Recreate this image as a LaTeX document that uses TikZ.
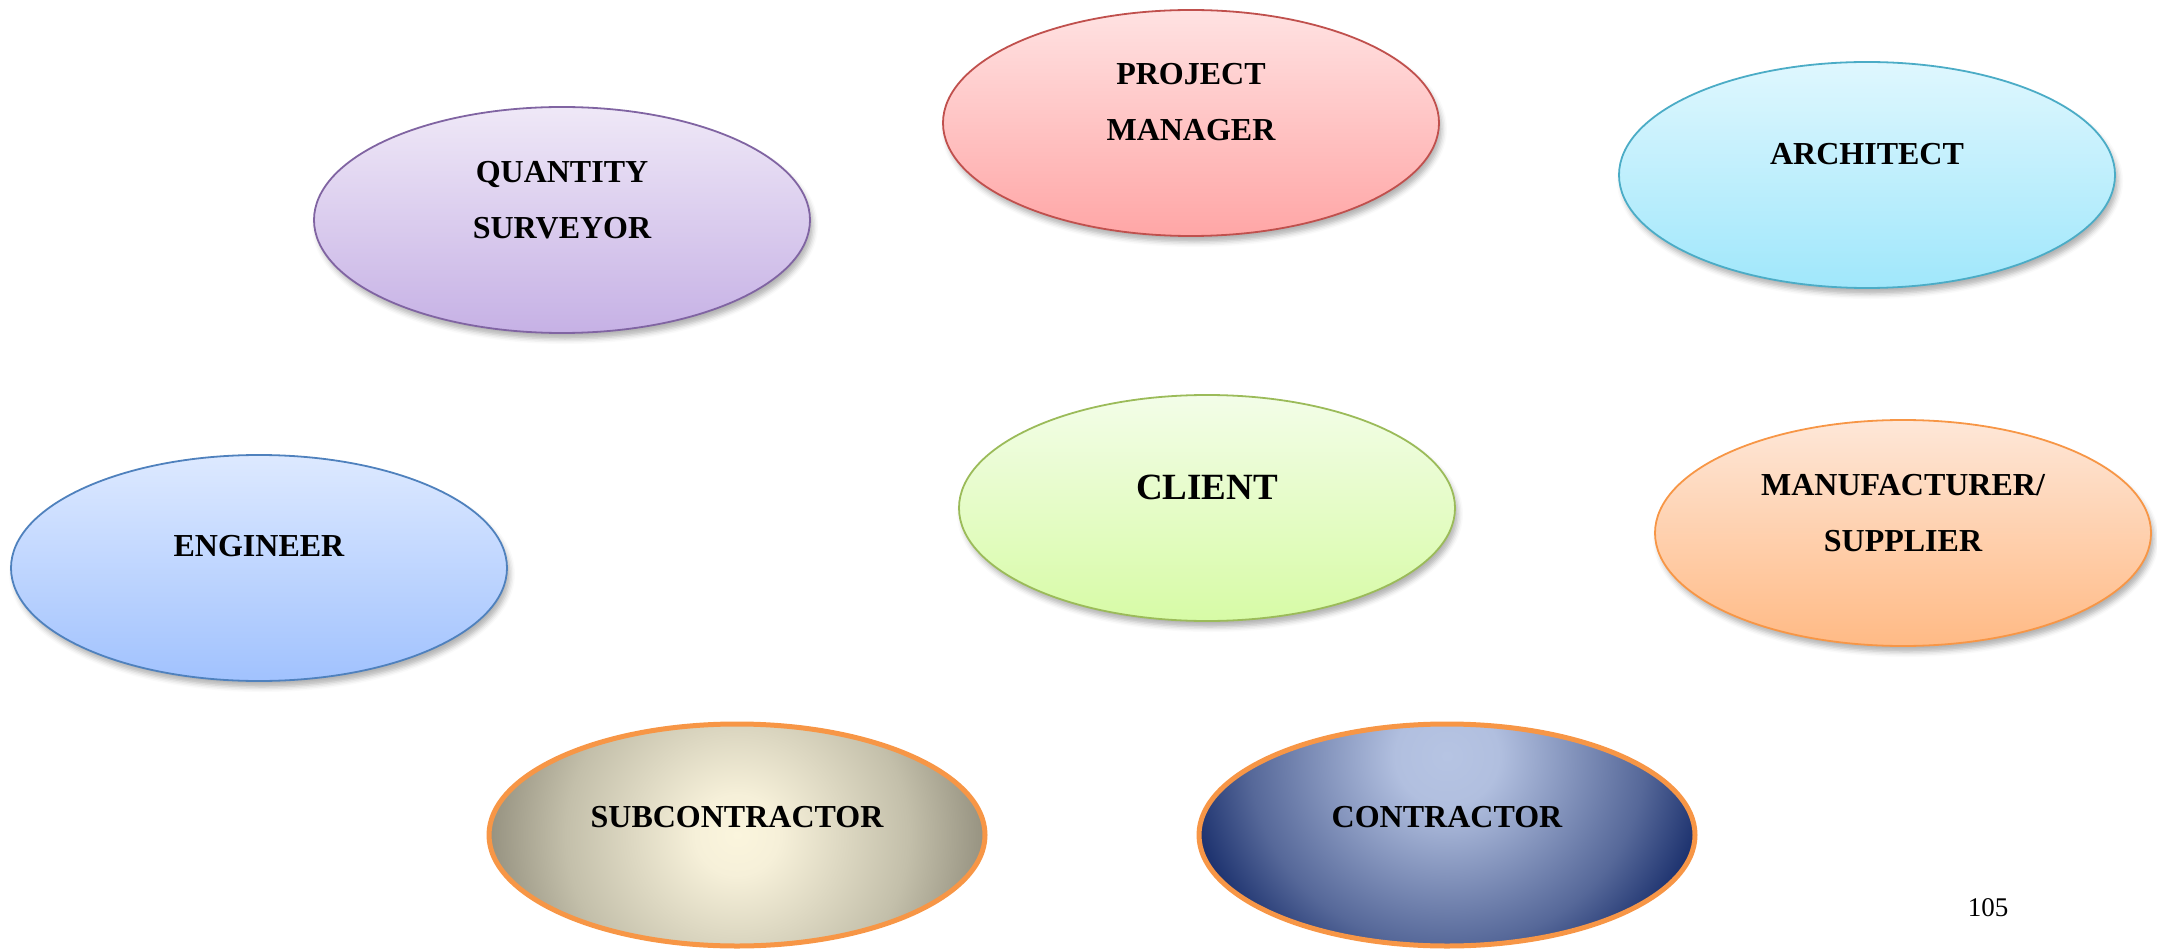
\documentclass[tikz,border=0pt]{standalone}
\usepackage{fontspec}
\setmainfont{Liberation Serif}
\usetikzlibrary{shapes.geometric,shadows.blur}
\definecolor{pmtop}{HTML}{FFE2E2}\definecolor{pmbot}{HTML}{FFA6A6}\definecolor{pmline}{HTML}{C0504D}
\definecolor{artop}{HTML}{DFF7FE}\definecolor{arbot}{HTML}{A0E7FB}\definecolor{arline}{HTML}{4BACC6}
\definecolor{qstop}{HTML}{EFE8F7}\definecolor{qsbot}{HTML}{C6B1E5}\definecolor{qsline}{HTML}{8064A2}
\definecolor{cltop}{HTML}{F3FDE8}\definecolor{clbot}{HTML}{D7FBA6}\definecolor{clline}{HTML}{9BBB59}
\definecolor{mftop}{HTML}{FEE7D8}\definecolor{mfbot}{HTML}{FFBA85}\definecolor{mfline}{HTML}{F79646}
\definecolor{entop}{HTML}{DDE9FF}\definecolor{enbot}{HTML}{A1C2FE}\definecolor{enline}{HTML}{4F81BD}
\definecolor{orangeline}{HTML}{F79646}
\definecolor{subin}{HTML}{FBF5DD}\definecolor{subintwo}{HTML}{F6F0D9}\definecolor{submid}{HTML}{C3BFAA}\definecolor{subout}{HTML}{8F8B7A}
\definecolor{conin}{HTML}{B6C4E3}\definecolor{conintwo}{HTML}{B1BFDF}\definecolor{conmid}{HTML}{566899}\definecolor{conout}{HTML}{1F3470}
\pgfdeclareradialshading{subshade}{\pgfpoint{0bp}{0bp}}{color(0bp)=(subin); color(4bp)=(subintwo); color(16.5bp)=(submid); color(25bp)=(subout); color(50bp)=(subout)}
\pgfdeclareradialshading{conshade}{\pgfpoint{0bp}{0bp}}{color(0bp)=(conin); color(5bp)=(conintwo); color(19bp)=(conmid); color(25bp)=(conout); color(50bp)=(conout)}
\begin{document}
\begin{tikzpicture}[x=1pt,y=-1pt,
  oval/.style={ellipse, minimum width=496pt, minimum height=226pt, inner sep=0pt, line width=1.8pt,
    blur shadow={shadow xshift=3pt, shadow yshift=-6pt, shadow blur radius=5pt, shadow opacity=30}},
  bigoval/.style={ellipse, minimum width=496pt, minimum height=222pt, inner sep=0pt, line width=5pt, draw=orangeline},
  lbl/.style={font=\fontsize{32}{56}\selectfont\bfseries, align=center, inner sep=0pt}]
\useasboundingbox (0,0) rectangle (2157,949);
\node[oval, draw=pmline, top color=pmtop, bottom color=pmbot] (pm) at (1191,123) {};
\node[oval, draw=arline, top color=artop, bottom color=arbot] (ar) at (1867,175) {};
\node[oval, draw=qsline, top color=qstop, bottom color=qsbot] (qs) at (562,220) {};
\node[oval, draw=clline, top color=cltop, bottom color=clbot] (cl) at (1207,508) {};
\node[oval, draw=mfline, top color=mftop, bottom color=mfbot] (mf) at (1903,533) {};
\node[oval, draw=enline, top color=entop, bottom color=enbot] (en) at (259,568) {};
\node[bigoval, fill=subout,
  path picture={\shade[shading=subshade] ([xshift=-260pt,yshift=-250pt]path picture bounding box.center) rectangle ([xshift=260pt,yshift=250pt]path picture bounding box.center);}] (sub) at (737,835) {};
\node[bigoval, fill=conout,
  path picture={\shade[shading=conshade] ([xshift=-260pt,yshift=-171pt]path picture bounding box.center) rectangle ([xshift=260pt,yshift=329pt]path picture bounding box.center);}] (con) at (1447,835) {};
\node[lbl] (pmt) at ([yshift=21pt]pm.center) {PROJECT\\MANAGER};
\node[lbl] (art) at ([yshift=21pt]ar.center) {ARCHITECT};
\node[lbl] (qst) at ([yshift=20pt]qs.center) {QUANTITY\\SURVEYOR};
\node[lbl, font=\fontsize{37}{44}\selectfont\bfseries] (clt) at ([yshift=21pt]cl.center) {CLIENT};
\node[lbl] (mft) at ([yshift=20pt]mf.center) {MANUFACTURER/\\SUPPLIER};
\node[lbl] (ent) at ([yshift=22pt]en.center) {ENGINEER};
\node[lbl] (subt) at ([yshift=18pt]sub.center) {SUBCONTRACTOR};
\node[lbl] (cont) at ([yshift=18pt]con.center) {CONTRACTOR};
\node[font=\fontsize{27}{32}\selectfont, inner sep=0pt] (pg) at (1988,908) {105};
\end{tikzpicture}
\end{document}
